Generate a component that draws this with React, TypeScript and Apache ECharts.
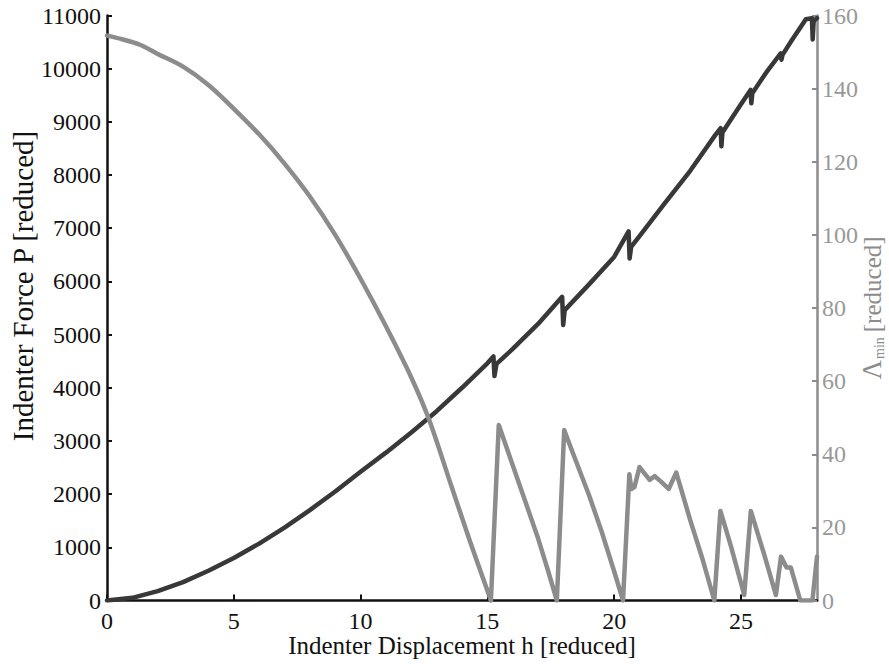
import React, { useEffect, useRef } from "react";
import * as echarts from "echarts";

// Indenter force P vs displacement h (left axis)
const hForce = [
  0, 1, 2, 3, 4, 5, 6, 7, 8, 9, 10, 11, 12, 13, 14, 15, 15.24, 15.28, 15.36,
  16, 17, 17.95, 17.99, 18.05, 19, 20, 20.57, 20.61, 20.67, 21, 22, 23, 24,
  24.2, 24.23, 24.27, 25, 25.38, 25.41, 25.45, 26, 26.57, 26.6, 26.64, 27,
  27.56, 27.8, 27.83, 27.87, 28,
];
const force = [
  0, 50, 175, 345, 560, 800, 1070, 1370, 1700, 2050, 2420, 2780, 3160, 3560,
  4000, 4460, 4590, 4220, 4450, 4730, 5200, 5710, 5180, 5460, 5940, 6460, 6940,
  6430, 6650, 6850, 7470, 8080, 8760, 8880, 8540, 8800, 9330, 9600, 9350, 9540,
  9930, 10290, 10170, 10260, 10530, 10930, 10950, 10550, 10900, 10950,
];

// Minimum eigenvalue Λ_min vs displacement h (right axis): smooth initial branch
const hBranch = [0, 0.6, 1.3, 2, 3, 4, 5, 6, 7, 8, 9, 10, 11, 12, 12.7, 13.5, 14.3, 15.14];
const lambdaBranch = [
  154.5, 153.5, 152, 149.5, 146, 141, 134.5, 127.5, 119.5, 110.5, 100, 88, 75,
  61, 49.5, 33, 16.5, 0,
];

// Λ_min after the first instability: sawtooth
const hSaw = [
  15.14, 15.45, 16, 16.5, 17, 17.4, 17.74, 18.03, 18.5, 19, 19.5, 20, 20.35,
  20.6, 20.68, 20.8, 21, 21.4, 21.6, 21.85, 22.15, 22.45, 23, 23.5, 23.95,
  24.19, 24.6, 25.13, 25.39, 25.9, 26.38, 26.58, 26.8, 26.97, 27.34, 27.82, 28,
];
const lambdaSaw = [
  0, 48, 37, 27, 17, 8, 0, 46.6, 38, 29, 19, 8, 0, 34.5, 30.5, 31, 36.5, 33,
  34, 32.5, 30.5, 35, 22, 11, 0, 24.5, 15, 1.5, 24.5, 13, 1.5, 12, 9, 9, 0, 0,
  12,
];

const xTicks = { min: 0, max: 28, interval: 5 };
const leftTicks = { min: 0, max: 11000, interval: 1000 };
const rightTicks = { min: 0, max: 160, interval: 20 };

const FONT = "Liberation Serif";
const DARK = "#383838";
const GRAY = "#8c8c8c";

export default function App() {
  const ref = useRef<HTMLDivElement>(null);

  useEffect(() => {
    if (!ref.current) return;
    const chart = echarts.init(ref.current, undefined, { renderer: "svg" });
    const plain = (v: number) => String(v);
    chart.setOption({
      animation: false,
      backgroundColor: "#ffffff",
      textStyle: { fontFamily: FONT },
      grid: {
        left: 107,
        right: 72,
        top: 15.5,
        bottom: 63.5,
        containLabel: false,
        outerBoundsMode: "none",
      },
      xAxis: {
        type: "value",
        min: xTicks.min,
        max: xTicks.max,
        interval: xTicks.interval,
        name: "Indenter Displacement h [reduced]",
        nameLocation: "middle",
        nameGap: 32,
        nameMoveOverlap: false,
        nameTextStyle: { fontFamily: FONT, fontSize: 25, lineHeight: 25, color: "#111" },
        axisLine: { show: true, lineStyle: { color: "#111", width: 2.5 } },
        axisTick: { show: true, inside: true, length: 6, lineStyle: { color: "#111", width: 2 } },
        axisLabel: {
          fontFamily: FONT,
          fontSize: 24,
          lineHeight: 18,
          color: "#111",
          margin: 11,
          showMaxLabel: false,
          formatter: plain,
        },
        splitLine: { show: false },
      },
      yAxis: [
        {
          type: "value",
          position: "left",
          min: leftTicks.min,
          max: leftTicks.max,
          interval: leftTicks.interval,
          name: "Indenter Force P [reduced]",
          nameLocation: "middle",
          nameRotate: 90,
          nameGap: 70,
          nameMoveOverlap: false,
          nameTextStyle: {
            fontFamily: FONT,
            fontSize: 29,
            color: "#111",
            padding: [0, 0, 0, 44],
          },
          axisLine: { show: true, lineStyle: { color: "#111", width: 2.5 } },
          axisTick: { show: true, inside: true, length: 5, lineStyle: { color: "#111", width: 2 } },
          axisLabel: { fontFamily: FONT, fontSize: 24, color: "#111", margin: 6, formatter: plain },
          splitLine: { show: false },
        },
        {
          type: "value",
          position: "right",
          min: rightTicks.min,
          max: rightTicks.max,
          interval: rightTicks.interval,
          name: "{L|Λ}{s|min} {r|[reduced]}",
          nameLocation: "middle",
          nameRotate: 90,
          nameGap: 41,
          nameMoveOverlap: false,
          nameTextStyle: {
            fontFamily: FONT,
            color: GRAY,
            rich: {
              L: { fontFamily: FONT, fontSize: 27, color: GRAY },
              s: { fontFamily: FONT, fontSize: 14, color: GRAY, padding: [14, 2, 0, 1] },
              r: { fontFamily: FONT, fontSize: 25, color: GRAY },
            },
          },
          axisLine: { show: true, lineStyle: { color: GRAY, width: 2.5 } },
          axisTick: { show: true, inside: true, length: 5, lineStyle: { color: GRAY, width: 2 } },
          axisLabel: { fontFamily: FONT, fontSize: 24, color: "#999999", margin: 5, formatter: plain },
          splitLine: { show: false },
        },
      ],
      series: [
        {
          name: "Indenter Force P",
          type: "line",
          yAxisIndex: 0,
          data: hForce.map((h, i) => [h, force[i]]),
          showSymbol: false,
          symbol: "none",
          lineStyle: { color: DARK, width: 4.5, cap: "round", join: "round" },
          z: 2,
        },
        {
          name: "Λmin branch",
          type: "line",
          yAxisIndex: 1,
          data: hBranch.map((h, i) => [h, lambdaBranch[i]]),
          showSymbol: false,
          symbol: "none",
          smooth: 0.35,
          lineStyle: { color: GRAY, width: 4.5, cap: "round", join: "round" },
          z: 3,
        },
        {
          name: "Λmin sawtooth",
          type: "line",
          yAxisIndex: 1,
          data: hSaw.map((h, i) => [h, lambdaSaw[i]]),
          showSymbol: false,
          symbol: "none",
          lineStyle: { color: GRAY, width: 4.5, cap: "round", join: "round" },
          z: 3,
        },
      ],
    });
    return () => chart.dispose();
  }, []);

  return (
    <div
      ref={ref}
      style={{ position: "fixed", left: 0, top: 0, width: 889, height: 664, background: "#fff" }}
    />
  );
}
